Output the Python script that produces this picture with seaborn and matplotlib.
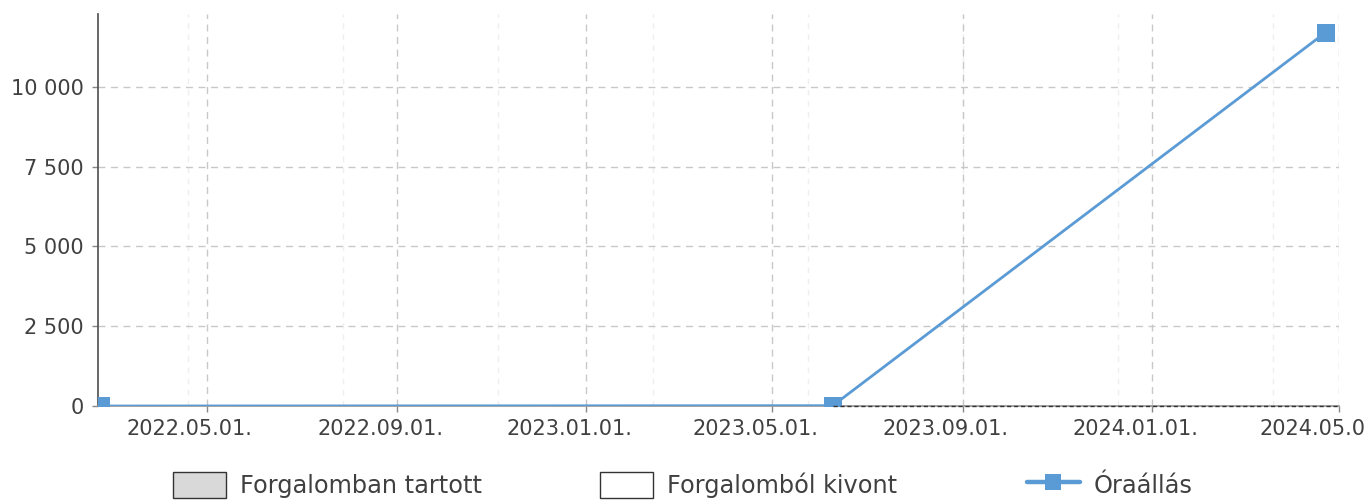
import numpy as np
import pandas as pd
import matplotlib
matplotlib.use("Agg")
import matplotlib.pyplot as plt
import matplotlib.dates as mdates
import matplotlib.ticker as mticker
import matplotlib.transforms as mtrans
from matplotlib.patches import Patch
from matplotlib.lines import Line2D
import seaborn as sns

# readings (date, hour meter)
dates = ["2022-02-22", "2023-06-09", "2024-04-22"]
readings = [0, 10, 11700]

x_start = "2022-02-20"
x_end = "2024-05-01"
y_max = 12280
y_ticks = [0, 2500, 5000, 7500, 10000]
x_ticks = ["2022-05-01", "2022-09-01", "2023-01-01", "2023-05-01",
           "2023-09-01", "2024-01-01", "2024-05-01"]
minor_start = "2022-04-19"
legend_labels = ["Forgalomban tartott", "Forgalomból kivont", "Óraállás"]

blue = "#5b9bd5"
text_col = "#404040"

df = pd.DataFrame({"datum": pd.to_datetime(dates), "ora": readings})

sns.set_theme(style="white")
plt.rcParams["font.family"] = ["DejaVu Sans"]

fig, ax = plt.subplots(figsize=(13.64, 5), dpi=100)
fig.subplots_adjust(left=0.072, right=0.982, top=0.972, bottom=0.188)

# minor (faint) grid every 100 days
minor = pd.date_range(minor_start, x_end, freq="100D")
for d in minor:
    ax.axvline(d, color="#efefef", lw=1, ls=(0, (4, 4)), zorder=0)

ax.grid(True, which="major", axis="both", color="#c8c8c8", lw=1,
        ls=(0, (5, 4)), zorder=0)

sns.lineplot(data=df, x="datum", y="ora", ax=ax, color=blue, lw=2,
             marker="s", markersize=13, markeredgewidth=0, zorder=3)

# dashed baseline after the last-but-one reading
ax.plot([df["datum"].iloc[1], pd.Timestamp(x_end)], [0, 0], color="#333333",
        lw=1, ls=(0, (3, 2)), zorder=4, clip_on=False)

ax.set_xlim(pd.Timestamp(x_start), pd.Timestamp(x_end))
ax.set_ylim(0, y_max)
ax.set_xticks(pd.to_datetime(x_ticks))
ax.xaxis.set_major_formatter(mdates.DateFormatter("%Y.%m.%d."))
ax.set_yticks(y_ticks)
ax.yaxis.set_major_formatter(
    mticker.FuncFormatter(lambda v, p: f"{int(v):,}".replace(",", " ")))
ax.set_xlabel("")
ax.set_ylabel("")

for s in ["top", "right"]:
    ax.spines[s].set_visible(False)
ax.spines["left"].set_color("#555555")
ax.spines["bottom"].set_color("#999999")
ax.tick_params(axis="both", colors=text_col, labelsize=15, length=4.5,
               width=1, direction="out")
ax.tick_params(axis="x", color="#888888", pad=5)
ax.tick_params(axis="y", color="#888888", pad=6)
ax.xaxis.set_ticks_position("bottom")
ax.yaxis.set_ticks_position("left")

# date labels sit a bit left of their ticks
shift = mtrans.ScaledTranslation(-17 / 100, 0, fig.dpi_scale_trans)
for lbl in ax.get_xticklabels():
    lbl.set_transform(lbl.get_transform() + shift)

handles = [
    Patch(facecolor="#d9d9d9", edgecolor="#333333", lw=1),
    Patch(facecolor="white", edgecolor="#333333", lw=1),
    Line2D([], [], color=blue, lw=3.2, marker="s", markersize=12,
           markeredgewidth=0),
]
leg_x = [173, 600, 1027]
for h, lab, lx in zip(handles, legend_labels, leg_x):
    fig.legend([h], [lab], loc="center left",
               bbox_to_anchor=(lx / 1364, 1 - 485 / 500), frameon=False,
               fontsize=17.3, handlelength=2.2, handleheight=1.35,
               handletextpad=0.58, borderpad=0, borderaxespad=0,
               labelcolor=text_col)

fig.savefig("out.png", dpi=100)
